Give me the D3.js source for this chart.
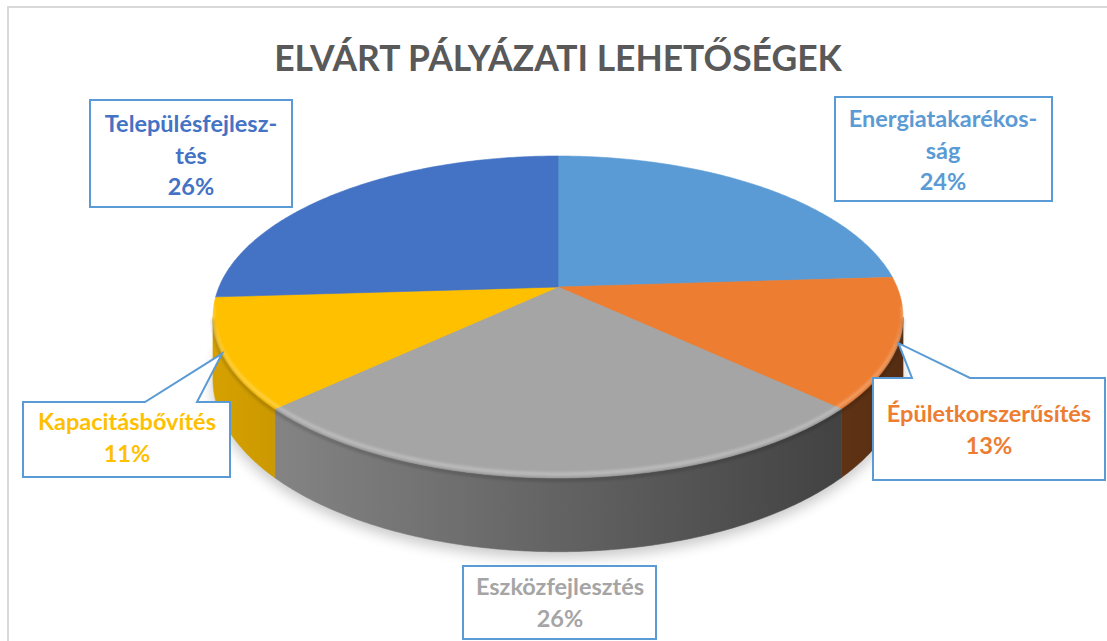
<!DOCTYPE html>
<html>
<head>
<meta charset="utf-8">
<script src="https://cdn.jsdelivr.net/npm/d3@7"></script>
<style>
  body { margin: 0; background: #fff; }
  text { font-family: Lato, 'Open Sans', sans-serif; font-weight: 700; }
</style>
</head>
<body>
<div id="chart"></div>
<script>
// data
var categories = ['Energiatakarékosság', 'Épületkorszerűsítés', 'Eszközfejlesztés', 'Kapacitásbővítés', 'Településfejlesztés']
var values = [24, 13, 26, 11, 26]
var labelLines = [['Energiatakarékos-', 'ság'], ['Épületkorszerűsítés'], ['Eszközfejlesztés'], ['Kapacitásbővítés'], ['Településfejlesz-', 'tés']]
var title = 'ELVÁRT PÁLYÁZATI LEHETŐSÉGEK'

var width = 1107
var height = 641

var color = d3.scaleOrdinal()
	.domain(categories)
	.range(['#5B9BD5', '#ED7D31', '#A5A5A5', '#FFC000', '#4472C4'])

// label boxes (layout only)
var boxes = {
	'Energiatakarékosság': {x: 835, y: 97, w: 217, h: 104, tx: 943, ty: 127},
	'Épületkorszerűsítés': {x: 873, y: 378, w: 232, h: 102, tx: 989, ty: 422, pointer: [912, 970]},
	'Eszközfejlesztés': {x: 463, y: 566, w: 193, h: 73, tx: 560, ty: 595},
	'Kapacitásbővítés': {x: 23, y: 402, w: 207, h: 75, tx: 127, ty: 430, pointer: [145, 197]},
	'Településfejlesztés': {x: 90, y: 100, w: 202, h: 107, tx: 191, ty: 132}
}

// perspective pie geometry
var cx = 558, cy = 287, A = 339, B = 155.4, D = 5.37, H = 60

function proj(theta, r, drop) {
	var u = r * Math.sin(theta)
	var v = -r * Math.cos(theta)
	var w = D / (D - v)
	return [cx + A * u * w, cy + (B * v + drop) * w]
}

var svg = d3.select('#chart')
	.append('svg')
	.attr('width', width)
	.attr('height', height)
	.attr('viewBox', [0, 0, width, height])

svg.append('rect')
	.attr('x', 8)
	.attr('y', 7)
	.attr('width', 1130)
	.attr('height', 680)
	.style('fill', '#fff')
	.style('stroke', '#d9d9d9')
	.style('stroke-width', 2)

var defs = svg.append('defs')

defs.append('filter')
	.attr('id', 'shadow')
	.attr('x', '-20%').attr('y', '-20%').attr('width', '140%').attr('height', '140%')
	.append('feGaussianBlur')
	.attr('stdDeviation', 7)

defs.append('filter')
	.attr('id', 'soft')
	.append('feGaussianBlur')
	.attr('stdDeviation', 1.5)

var line = d3.line()

var arcs = d3.pie().sort(null).value(d => d)(values)

function rim(a0, a1, drop) {
	var n = Math.max(2, Math.ceil((a1 - a0) / 0.01))
	return d3.range(n + 1).map(i => proj(a0 + (a1 - a0) * i / n, 1, drop))
}

// shadow under the pie
var bottom = rim(0, 2 * Math.PI, H)
svg.append('path')
	.attr('d', line(bottom.map(p => [p[0], p[1] + 6])) + 'Z')
	.style('fill', '#000')
	.style('opacity', 0.22)
	.attr('filter', 'url(#shadow)')

// side gradients, darker to the right
arcs.forEach((d, i) => {
	var c = d3.rgb(color(categories[i]))
	var g = defs.append('linearGradient')
		.attr('id', 'side' + i)
		.attr('gradientUnits', 'userSpaceOnUse')
		.attr('x1', cx - A * 1.02).attr('x2', cx + A * 1.02)
		.attr('y1', 0).attr('y2', 0)
	;[[0, 0.84], [1, 0.36]].forEach(s => {
		g.append('stop')
			.attr('offset', s[0])
			.attr('stop-color', d3.rgb(c.r * s[1], c.g * s[1], c.b * s[1]))
	})
})

var tL = Math.acos(-1 / D)
var tR = 2 * Math.PI - tL

// visible sides
svg.append('g')
	.selectAll('path')
	.data(arcs.filter(d => d.endAngle > tL && d.startAngle < tR))
	.enter()
	.append('path')
	.attr('d', d => {
		var a0 = Math.max(d.startAngle, tL)
		var a1 = Math.min(d.endAngle, tR)
		var pts = rim(a0, a1, 0).concat(rim(a0, a1, H).reverse())
		return line(pts) + 'Z'
	})
	.style('fill', d => 'url(#side' + d.index + ')')
	.style('stroke', d => 'url(#side' + d.index + ')')
	.style('stroke-width', 0.6)

// top faces
svg.append('g')
	.selectAll('path')
	.data(arcs)
	.enter()
	.append('path')
	.attr('d', d => line([proj(0, 0, 0)].concat(rim(d.startAngle, d.endAngle, 0))) + 'Z')
	.style('fill', (d, i) => color(categories[i]))
	.style('stroke', (d, i) => color(categories[i]))
	.style('stroke-width', 0.6)

// bevel highlight on the front rim
svg.append('path')
	.attr('d', line(rim(tL - 0.05, tR + 0.05, 0).map(p => [p[0], p[1] - 4])))
	.style('fill', 'none')
	.style('stroke', '#fff')
	.style('stroke-width', 3)
	.style('opacity', 0.3)
	.attr('filter', 'url(#soft)')
svg.append('path')
	.attr('d', line(rim(tL, tR, 0).map(p => [p[0], p[1] + 2])))
	.style('fill', 'none')
	.style('stroke', '#000')
	.style('stroke-width', 3)
	.style('opacity', 0.18)
	.attr('filter', 'url(#soft)')

// title
var t = svg.append('text')
	.attr('x', 558)
	.attr('y', 71)
	.attr('text-anchor', 'middle')
	.style('font-size', '35px')
	.style('fill', '#595959')
	.text(title)
var tw = t.node().getComputedTextLength()
t.style('font-size', (35 * 568 / tw) + 'px')

// data labels
var total = d3.sum(values)
arcs.forEach((d, i) => {
	var name = categories[i]
	var b = boxes[name]
	var g = svg.append('g')
	var path
	if (b.pointer) {
		var mid = (d.startAngle + d.endAngle) / 2
		var tip = proj(mid, 1, 0)
		path = line([[b.x, b.y], [b.pointer[0], b.y], tip, [b.pointer[1], b.y], [b.x + b.w, b.y],
			[b.x + b.w, b.y + b.h], [b.x, b.y + b.h]]) + 'Z'
	} else {
		path = line([[b.x, b.y], [b.x + b.w, b.y], [b.x + b.w, b.y + b.h], [b.x, b.y + b.h]]) + 'Z'
	}
	g.append('path')
		.attr('d', path)
		.style('fill', '#fff')
		.style('stroke', '#5B9BD5')
		.style('stroke-width', 2)
	var lines = labelLines[i].concat([Math.round(values[i] / total * 100) + '%'])
	lines.forEach((s, j) => {
		g.append('text')
			.attr('x', b.tx)
			.attr('y', b.ty + j * 31.5)
			.attr('text-anchor', 'middle')
			.style('font-size', '23.5px')
			.style('fill', color(name))
			.text(s)
	})
})
</script>
</body>
</html>
